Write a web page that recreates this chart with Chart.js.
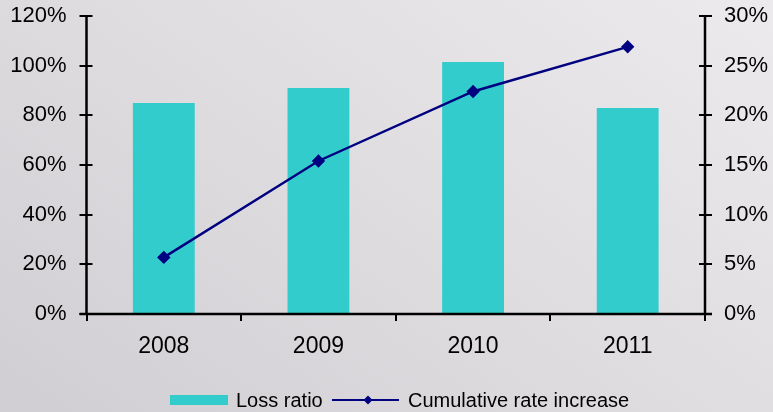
<!DOCTYPE html>
<html>
<head>
<meta charset="utf-8">
<script src="https://cdn.jsdelivr.net/npm/chart.js@4/dist/chart.umd.min.js"></script>
<style>
  html, body { margin: 0; padding: 0; }
  body {
    width: 773px; height: 412px; overflow: hidden;
    background: linear-gradient(35deg, #d0ced2 0%, #dddbde 45%, #eceaed 100%);
  }
  #wrap { position: relative; width: 773px; height: 412px; }
</style>
</head>
<body>
<div id="wrap"><canvas id="chart" width="773" height="412"></canvas></div>
<script>
// Years on the category axis
const years = ['2008', '2009', '2010', '2011'];
// Loss ratio, % (left axis)
const lossRatio = [85, 91, 101.5, 83];
// Cumulative rate increase, % (right axis)
const cumulativeRate = [5.7, 15.4, 22.4, 26.9];
// Axis tick values
const leftTicks = [0, 20, 40, 60, 80, 100, 120];
const rightTicks = [0, 5, 10, 15, 20, 25, 30];

const BAR_COLOR = '#33cccc';
const LINE_COLOR = '#000080';
const FONT = '"Liberation Sans", Arial, Helvetica, sans-serif';

// Axis lines with tick marks that cross the axis, Excel style
const axisPainter = {
  id: 'axisPainter',
  afterDatasetsDraw(chart) {
    const { ctx, chartArea: a, scales } = chart;
    ctx.save();
    ctx.strokeStyle = '#000';
    ctx.lineCap = 'butt';
    // tick marks
    ctx.lineWidth = 2;
    ctx.beginPath();
    leftTicks.forEach(v => {
      const y = Math.round(scales.y.getPixelForValue(v));
      ctx.moveTo(a.left - 7, y); ctx.lineTo(a.left + 6, y);
    });
    rightTicks.forEach(v => {
      const y = Math.round(scales.y2.getPixelForValue(v));
      ctx.moveTo(a.right - 6, y); ctx.lineTo(a.right + 7, y);
    });
    const xs = scales.x;
    for (let i = 0; i <= years.length; i++) {
      const x = i < years.length
        ? xs.getPixelForValue(i) - (xs.getPixelForValue(1) - xs.getPixelForValue(0)) / 2
        : a.right;
      ctx.moveTo(Math.round(x), a.bottom); ctx.lineTo(Math.round(x), a.bottom + 7);
    }
    ctx.stroke();
    // axis lines
    ctx.lineWidth = 2.5;
    ctx.beginPath();
    ctx.moveTo(a.left, a.top); ctx.lineTo(a.left, a.bottom);
    ctx.moveTo(a.right, a.top); ctx.lineTo(a.right, a.bottom);
    ctx.moveTo(a.left - 7, a.bottom); ctx.lineTo(a.right + 7, a.bottom);
    ctx.stroke();
    ctx.restore();
  }
};

// Bottom legend: swatch for the bars, line-with-diamond for the series
const legendPainter = {
  id: 'legendPainter',
  afterDraw(chart) {
    const { ctx } = chart;
    const cy = 400;
    ctx.save();
    ctx.font = '20px ' + FONT;
    ctx.textBaseline = 'middle';
    ctx.fillStyle = BAR_COLOR;
    ctx.fillRect(170, cy - 5, 58, 10);
    ctx.fillStyle = '#000';
    ctx.fillText(chart.data.datasets[1].label, 236, cy + 1);
    ctx.strokeStyle = LINE_COLOR;
    ctx.lineWidth = 2.2;
    ctx.beginPath();
    ctx.moveTo(332, cy); ctx.lineTo(399, cy);
    ctx.stroke();
    ctx.fillStyle = LINE_COLOR;
    ctx.beginPath();
    ctx.moveTo(368, cy - 4.5); ctx.lineTo(372.5, cy); ctx.lineTo(368, cy + 4.5); ctx.lineTo(363.5, cy);
    ctx.closePath(); ctx.fill();
    ctx.fillStyle = '#000';
    ctx.fillText(chart.data.datasets[0].label, 408, cy + 1);
    ctx.restore();
  }
};

function fixWidth(w) {
  return s => { s.width = w; s.paddingTop = 0; s.paddingBottom = 0; };
}

new Chart(document.getElementById('chart'), {
  data: {
    labels: years,
    datasets: [
      {
        type: 'line',
        label: 'Cumulative rate increase',
        data: cumulativeRate,
        yAxisID: 'y2',
        borderColor: LINE_COLOR,
        backgroundColor: LINE_COLOR,
        borderWidth: 2.4,
        pointStyle: 'rectRot',
        pointRadius: 5,
        pointHoverRadius: 5,
        tension: 0,
        order: 0
      },
      {
        type: 'bar',
        label: 'Loss ratio',
        data: lossRatio,
        yAxisID: 'y',
        backgroundColor: BAR_COLOR,
        borderWidth: 0,
        barPercentage: 0.4,
        categoryPercentage: 1,
        order: 1
      }
    ]
  },
  options: {
    responsive: false,
    animation: false,
    events: [],
    layout: { padding: { top: 16, left: 0, right: 0, bottom: 0 } },
    plugins: { legend: { display: false }, tooltip: { enabled: false } },
    scales: {
      x: {
        offset: true,
        grid: { display: false, drawTicks: false },
        border: { display: false },
        ticks: { color: '#000', font: { family: FONT, size: 23 }, padding: 19 },
        afterFit(s) { s.height = 98; s.paddingLeft = 0; s.paddingRight = 0; }
      },
      y: {
        position: 'left',
        min: 0, max: 120,
        afterBuildTicks(s) { s.ticks = leftTicks.map(v => ({ value: v })); },
        grid: { display: false, drawTicks: false },
        border: { display: false },
        ticks: { color: '#000', font: { family: FONT, size: 22 }, padding: 20,
                 callback: v => v + '%' },
        afterFit: fixWidth(86.5)
      },
      y2: {
        position: 'right',
        min: 0, max: 30,
        afterBuildTicks(s) { s.ticks = rightTicks.map(v => ({ value: v })); },
        grid: { display: false, drawTicks: false },
        border: { display: false },
        ticks: { color: '#000', font: { family: FONT, size: 22 }, padding: 19,
                 callback: v => v + '%' },
        afterFit: fixWidth(68)
      }
    }
  },
  plugins: [axisPainter, legendPainter]
});
</script>
</body>
</html>
